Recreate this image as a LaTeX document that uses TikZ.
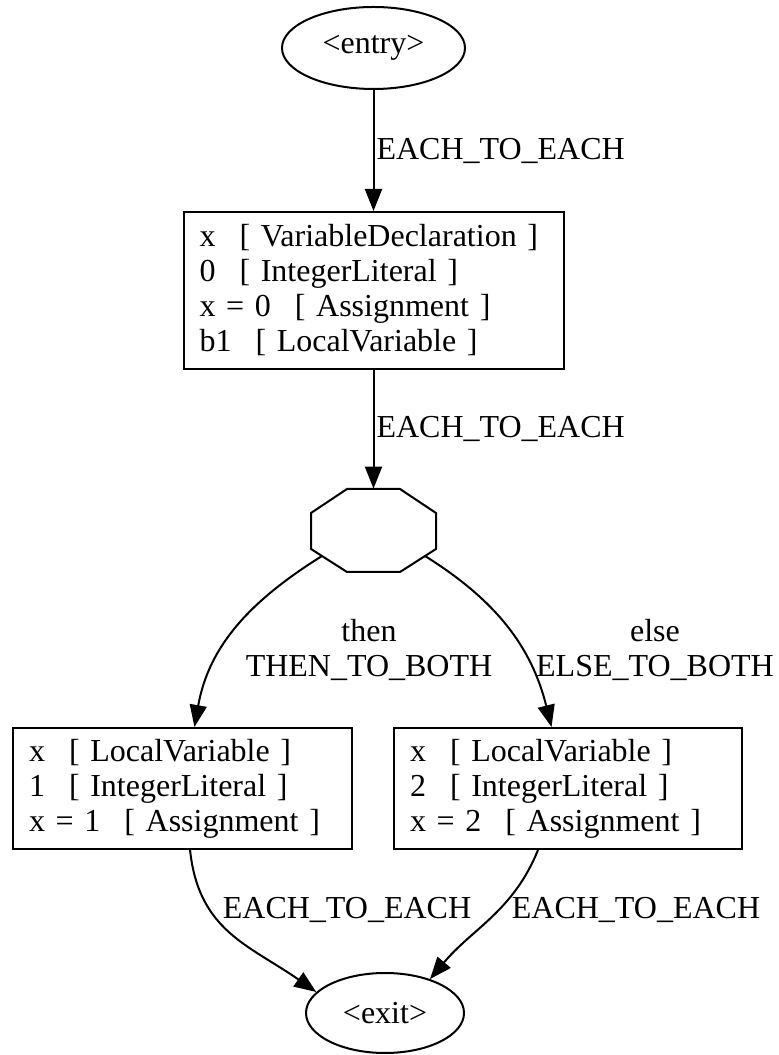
\documentclass[tikz,border=0pt]{standalone}
\usepackage{fontspec}
\setmainfont{Liberation Serif}
\usetikzlibrary{arrows.meta,shapes.geometric}
\newcommand{\gp}{\hspace{0.75em}}

\begin{document}
\begin{tikzpicture}[x=0.5pt, y=0.5pt,
  every node/.style = {font=\fontsize{16}{17.5}\selectfont},
  terminal/.style = {shape=ellipse, draw, line width=1pt, inner sep=0pt},
  stmt/.style = {shape=rectangle, draw, line width=1pt, align=left,
    inner xsep=8pt, inner ysep=3pt},
  edge/.style = {line width=1pt, -{Triangle[length=11pt, width=8.5pt]}},
  elabel/.style = {inner sep=1pt, align=center}]
  \useasboundingbox (0,0) rectangle (779,1055);
  \node[terminal, minimum width=91.5pt, minimum height=41pt] (entry) at (373.5,1007) {<entry>};
  \node[stmt, text width=174pt, minimum height=78.5pt] (decl) at (373.5,764.5)
    {x\gp[ VariableDeclaration ]\\0\gp[ IntegerLiteral ]\\x = 0\gp[ Assignment ]\\b1\gp[ LocalVariable ]};
  \node[minimum width=62.5pt, minimum height=41.5pt, inner sep=0pt] (branch) at (373.5,524.5) {};
  \draw[line width=1pt] (347,566) -- (400,566) -- (436,542) -- (436,506)
    -- (400,483) -- (347,483) -- (311,506) -- (311,542) -- cycle;
  \coordinate (branchL) at (322,499);
  \coordinate (branchR) at (425,499);
  \node[stmt, text width=153.5pt, minimum height=60.5pt] (thenblk) at (182.5,266.5)
    {x\gp[ LocalVariable ]\\1\gp[ IntegerLiteral ]\\x = 1\gp[ Assignment ]};
  \node[stmt, text width=158pt, minimum height=60.5pt] (elseblk) at (568,266.5)
    {x\gp[ LocalVariable ]\\2\gp[ IntegerLiteral ]\\x = 2\gp[ Assignment ]};
  \node[terminal, minimum width=79pt, minimum height=40pt] (exit) at (385,42) {<exit>};

  \draw[edge] (entry) -- node[elabel, right] (lentry) {EACH\_TO\_EACH} (decl);
  \draw[edge] (decl) -- node[elabel, right] (ldecl) {EACH\_TO\_EACH} (branch.north);
  \draw[edge] (branchL) to[out=212, in=80] (thenblk.79);
  \draw[edge] (branchR) to[out=-32, in=104] (elseblk.105);
  \draw[edge] (thenblk.-83) to[out=-84, in=145, looseness=1.1] (exit.163);
  \draw[edge] (elseblk.-116) to[out=-112, in=50] (exit.37);
  \node[elabel] (lthen) at (369,405) {then\\THEN\_TO\_BOTH};
  \node[elabel] (lelse) at (655,405) {else\\ELSE\_TO\_BOTH};
  \node[elabel] (lthenexit) at (347,145) {EACH\_TO\_EACH};
  \node[elabel] (lelseexit) at (636,145) {EACH\_TO\_EACH};
\end{tikzpicture}
\end{document}
